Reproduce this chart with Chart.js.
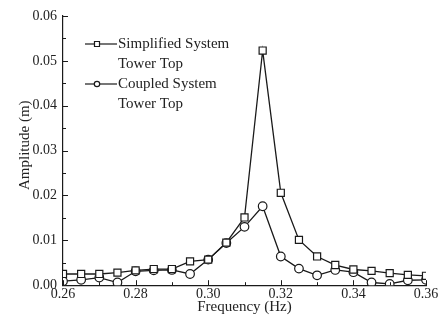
<!DOCTYPE html>
<html>
<head>
<meta charset="utf-8">
<script src="https://cdn.jsdelivr.net/npm/chart.js@4.4.0/dist/chart.umd.min.js"></script>
<style>
  html, body { margin: 0; padding: 0; background: #fff; }
  #wrap { width: 440px; height: 322px; }
</style>
</head>
<body>
<div id="wrap"><canvas id="chart"></canvas></div>
<script>
// frequency (Hz) and amplitude (m)
const freq = [0.26, 0.265, 0.27, 0.275, 0.28, 0.285, 0.29, 0.295, 0.30, 0.305, 0.31,
              0.315, 0.32, 0.325, 0.33, 0.335, 0.34, 0.345, 0.35, 0.355, 0.36];
const simplified = [0.0025, 0.0025, 0.0025, 0.0028, 0.0033, 0.0036, 0.0036, 0.0053, 0.0057, 0.0095, 0.0151,
                    0.0523, 0.0206, 0.0101, 0.0064, 0.0045, 0.0035, 0.0032, 0.0027, 0.0023, 0.0021];
const coupled = [0.0009, 0.0012, 0.0017, 0.0006, 0.0031, 0.0033, 0.0034, 0.0025, 0.0057, 0.0094, 0.0130,
                 0.0176, 0.0064, 0.0037, 0.0022, 0.0034, 0.0029, 0.0006, 0.0003, 0.0011, 0.0012];
const seriesNames = [['Simplified System', 'Tower Top'], ['Coupled System', 'Tower Top']];
const xTicks = [0.26, 0.28, 0.30, 0.32, 0.34, 0.36];
const yTicks = [0.00, 0.01, 0.02, 0.03, 0.04, 0.05, 0.06];

const FONT = 'Liberation Serif, Times New Roman, serif';
const INK = '#1a1a1a';

function pts(ys) {
  return freq.map((f, i) => ({ x: f, y: ys[i] }));
}

// small legend markers
function marker(ctx, style, x, y) {
  ctx.beginPath();
  if (style === 'rect') {
    ctx.rect(x - 2.5, y - 2.5, 5, 5);
  } else {
    ctx.arc(x, y, 2.7, 0, Math.PI * 2);
  }
  ctx.fillStyle = '#fff';
  ctx.fill();
  ctx.stroke();
}

// inward tick marks (major + minor), y title and the in-plot legend
const decor = {
  id: 'decor',
  afterDraw(chart) {
    const ctx = chart.ctx;
    const a = chart.chartArea;
    const xs = chart.scales.x, ys = chart.scales.y;
    ctx.save();
    ctx.strokeStyle = INK;
    ctx.lineWidth = 1;
    ctx.beginPath();
    xTicks.forEach((v, i) => {
      const px = Math.round(xs.getPixelForValue(v)) + 0.5;
      ctx.moveTo(px, a.bottom); ctx.lineTo(px, a.bottom - 5);
      if (i < xTicks.length - 1) {
        const mx = Math.round(xs.getPixelForValue((v + xTicks[i + 1]) / 2)) + 0.5;
        ctx.moveTo(mx, a.bottom); ctx.lineTo(mx, a.bottom - 3);
      }
    });
    yTicks.forEach((v, i) => {
      const py = Math.round(ys.getPixelForValue(v)) + 0.5;
      ctx.moveTo(a.left, py); ctx.lineTo(a.left + 5, py);
      if (i < yTicks.length - 1) {
        const my = Math.round(ys.getPixelForValue((v + yTicks[i + 1]) / 2)) + 0.5;
        ctx.moveTo(a.left, my); ctx.lineTo(a.left + 3, my);
      }
    });
    ctx.stroke();

    // y axis title
    ctx.fillStyle = '#222';
    ctx.font = '15px ' + FONT;
    ctx.textAlign = 'center';
    ctx.textBaseline = 'middle';
    ctx.save();
    ctx.translate(25, a.top + (a.bottom - a.top) * 0.48);
    ctx.rotate(-Math.PI / 2);
    ctx.fillText('Amplitude (m)', 0, 0);
    ctx.restore();

    // legend
    ctx.textAlign = 'left';
    ctx.lineWidth = 1.2;
    chart.data.datasets.forEach((ds, i) => {
      const y0 = a.top + 28 + i * 40;
      const x0 = a.left + 22;
      ctx.strokeStyle = INK;
      ctx.beginPath();
      ctx.moveTo(x0, y0); ctx.lineTo(x0 + 32, y0);
      ctx.stroke();
      marker(ctx, ds.pointStyle, x0 + 12, y0);
      ctx.fillStyle = '#222';
      ds.label.forEach((t, k) => ctx.fillText(t, x0 + 33, y0 + k * 20));
    });
    ctx.restore();
  }
};

new Chart(document.getElementById('chart'), {
  type: 'scatter',
  data: {
    datasets: [
      {
        label: seriesNames[0],
        data: pts(simplified),
        showLine: true,
        borderColor: INK,
        borderWidth: 1.3,
        pointStyle: 'rect',
        pointRadius: 5,
        pointBorderWidth: 1.2,
        pointBackgroundColor: '#fff',
        pointBorderColor: INK
      },
      {
        label: seriesNames[1],
        data: pts(coupled),
        showLine: true,
        borderColor: INK,
        borderWidth: 1.3,
        pointStyle: 'circle',
        pointRadius: 4.3,
        pointBorderWidth: 1.2,
        pointBackgroundColor: '#fff',
        pointBorderColor: INK
      }
    ]
  },
  options: {
    responsive: true,
    maintainAspectRatio: false,
    animation: false,
    layout: { padding: { left: 26.5, right: 14, top: 16, bottom: 6 } },
    plugins: { legend: { display: false }, tooltip: { enabled: false } },
    scales: {
      x: {
        type: 'linear',
        min: 0.26,
        max: 0.36,
        afterBuildTicks: s => { s.ticks = xTicks.map(v => ({ value: v })); },
        ticks: {
          callback: v => v.toFixed(2),
          font: { family: FONT, size: 14 },
          color: '#222',
          padding: 1,
          maxRotation: 0
        },
        grid: { display: false, drawTicks: false },
        border: { display: true, color: INK, width: 1.2 },
        title: {
          display: true,
          text: 'Frequency (Hz)',
          font: { family: FONT, size: 15 },
          color: '#222',
          padding: { top: -6, bottom: 0 }
        }
      },
      y: {
        type: 'linear',
        min: 0,
        max: 0.06,
        afterBuildTicks: s => { s.ticks = yTicks.map(v => ({ value: v })); },
        ticks: {
          callback: v => v.toFixed(2),
          font: { family: FONT, size: 14 },
          color: '#222',
          padding: 6
        },
        grid: { display: false, drawTicks: false },
        border: { display: true, color: INK, width: 1.2 }
      }
    }
  },
  plugins: [decor]
});
</script>
</body>
</html>
